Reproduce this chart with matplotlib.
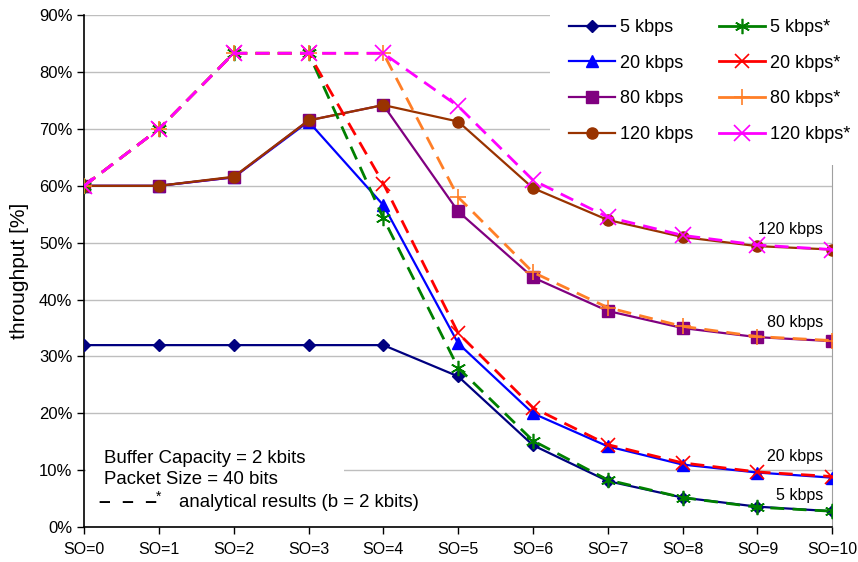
import matplotlib
matplotlib.use("Agg")
import matplotlib.pyplot as plt
from matplotlib.patches import Rectangle
from matplotlib.ticker import FuncFormatter

plt.rcParams['font.family'] = ['Liberation Sans', 'DejaVu Sans']

so_labels = ['SO=0', 'SO=1', 'SO=2', 'SO=3', 'SO=4', 'SO=5',
             'SO=6', 'SO=7', 'SO=8', 'SO=9', 'SO=10']

# simulation results
sim_5 = [32.0, 32.0, 32.0, 32.0, 32.0, 26.5, 14.4, 8.1, 5.2, 3.6, 2.8]
sim_20 = [60.0, 60.0, 61.5, 71.3, 56.6, 32.3, 20.0, 14.2, 11.0, 9.6, 8.7]
sim_80 = [60.0, 60.0, 61.5, 71.5, 74.2, 55.5, 43.9, 38.0, 35.0, 33.4, 32.7]
sim_120 = [60.0, 60.0, 61.6, 71.5, 74.2, 71.3, 59.6, 54.0, 51.0, 49.4, 48.8]

# analytical results
ana_5 = [60.0, 70.0, 83.3, 83.3, 54.3, 28.0, 15.2, 8.3, 5.2, 3.5, 2.8]
ana_20 = [60.0, 70.0, 83.3, 83.3, 60.4, 34.1, 21.0, 14.5, 11.3, 9.7, 8.9]
ana_80 = [60.0, 70.0, 83.3, 83.3, 83.3, 58.0, 44.8, 38.6, 35.3, 33.5, 32.8]
ana_120 = [60.0, 70.0, 83.3, 83.3, 83.3, 74.0, 61.0, 54.5, 51.3, 49.6, 48.8]

x = list(range(len(so_labels)))
star = (6, 2, 0)

fig = plt.figure(figsize=(8.58, 5.62), dpi=100)
ax = fig.add_axes([0.098, 0.062, 0.872, 0.911])

ax.plot(x, sim_5, color='#000080', lw=1.6, marker='D', ms=6.5, label='5 kbps', zorder=3)
ax.plot(x, sim_20, color='#0000FF', lw=1.6, marker='^', ms=8, label='20 kbps', zorder=3)
ax.plot(x, sim_80, color='#800080', lw=1.6, marker='s', ms=8, label='80 kbps', zorder=3)
ax.plot(x, sim_120, color='#993300', lw=1.6, marker='o', ms=8, label='120 kbps', zorder=3)

dash = (5, 3)
ax.plot(x, ana_5, color='#008000', lw=2, dashes=dash, marker=star, ms=11, mew=1.2,
        label='5 kbps*', zorder=4)
ax.plot(x, ana_20, color='#FF0000', lw=2, dashes=dash, marker='x', ms=10, mew=1.2,
        label='20 kbps*', zorder=4)
ax.plot(x, ana_80, color='#FF7F27', lw=2, dashes=dash, marker='+', ms=12, mew=1.2,
        label='80 kbps*', zorder=4)
ax.plot(x, ana_120, color='#FF00FF', lw=2, dashes=dash, marker='x', ms=11, mew=1.2,
        label='120 kbps*', zorder=5)

ax.set_xlim(0, 10)
ax.set_ylim(0, 90)
ax.set_xticks(x)
ax.set_xticklabels(so_labels)
ax.set_yticks(range(0, 91, 10))
ax.yaxis.set_major_formatter(FuncFormatter(lambda v, p: '%d%%' % v))
ax.tick_params(axis='y', labelsize=12, direction='out', length=5, width=1)
ax.tick_params(axis='x', labelsize=11.5, direction='out', length=5, width=1, pad=6)
ax.set_ylabel('throughput [%]', fontsize=15, labelpad=7)

ax.set_axisbelow(True)
ax.grid(axis='y', color='#BEBEBE', lw=1)
ax.spines['top'].set_visible(False)
ax.spines['right'].set_color('#A0A0A0')
ax.spines['left'].set_linewidth(1.2)
ax.spines['bottom'].set_linewidth(1.2)

# end-of-curve labels
for txt, yv in [('120 kbps', 52.3), ('80 kbps', 36.0), ('20 kbps', 12.5), ('5 kbps', 5.5)]:
    ax.text(9.88, yv, txt, fontsize=11.5, ha='right', va='center', zorder=6)

# annotation box in lower left
ax.add_patch(Rectangle((0.003, 0.03), 0.345, 0.135, transform=ax.transAxes,
                       facecolor='white', edgecolor='none', zorder=1))
ax.text(0.267, 12.1, 'Buffer Capacity = 2 kbits', fontsize=13.4, va='center', zorder=6)
ax.text(0.267, 8.3, 'Packet Size = 40 bits', fontsize=13.4, va='center', zorder=6)
ax.text(0.2, 4.5, '\u2013  \u2013  \u2013', fontsize=15, fontweight='bold', va='center', zorder=6)
ax.text(0.96, 5.3, '*', fontsize=10, va='center', zorder=6)
ax.text(1.27, 4.4, 'analytical results (b = 2 kbits)', fontsize=13.4, va='center', zorder=6)

# white area behind the legend (hides grid and right spine there)
fig.add_artist(Rectangle((550 / 858, 1 - 165 / 562), 1, 165 / 562, transform=fig.transFigure,
                         facecolor='white', edgecolor='none', zorder=1))

handles, labels = ax.get_legend_handles_labels()
leg = fig.legend(handles, labels, ncol=2, loc='upper left',
                 bbox_to_anchor=(0.6632, 0.966), fontsize=13, frameon=False,
                 labelspacing=1.03, columnspacing=1.44, handlelength=2.55,
                 handletextpad=0.28, borderpad=0, borderaxespad=0)
for ln in leg.get_lines():
    ln.set_linestyle('-')

fig.savefig('out.png', dpi=100)
